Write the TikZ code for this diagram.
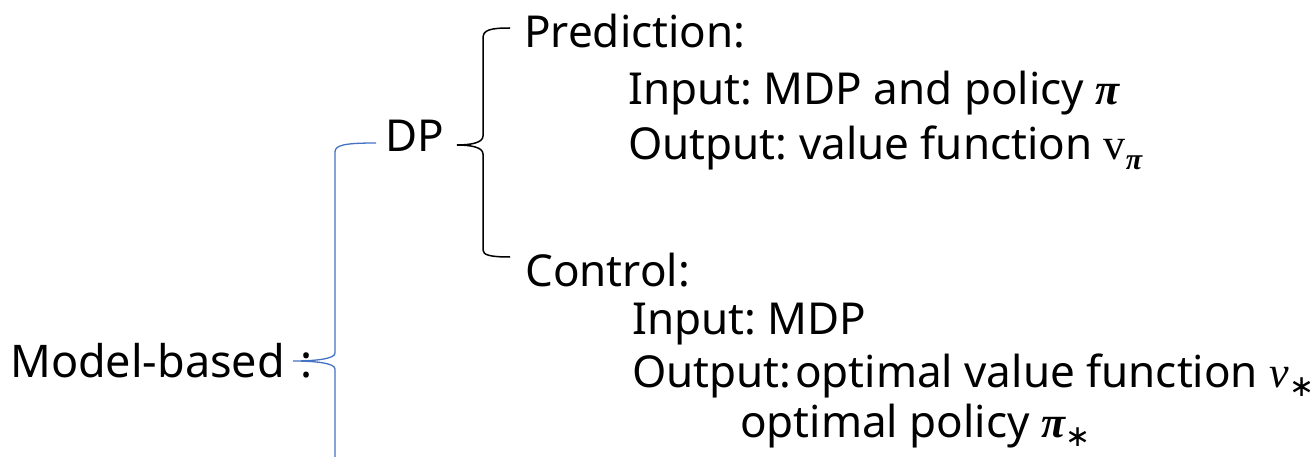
\documentclass[tikz,border=0pt]{standalone}
\usepackage{fontspec}
\setmainfont{Noto Sans}
\newfontfamily\mathserif{Liberation Serif}
\newfontfamily\symfont{DejaVu Sans}
\newcommand{\gpi}{{\mathserif\bfseries\itshape π}}
\newcommand{\gv}{{\mathserif\itshape v}}
\newcommand{\uv}{{\mathserif v}}
\newcommand{\myast}{{\symfont ∗}}
\newcommand{\subtxt}[1]{\raisebox{-0.22em}{\scalebox{0.68}{#1}}}
\frenchspacing
\begin{document}
\begin{tikzpicture}[x=1pt,y=-1pt,
  txt/.style={anchor=base west,inner sep=0pt,font=\fontsize{44}{52}\selectfont\frenchspacing},
  txtl/.style={anchor=base west,inner sep=0pt,font=\fontsize{44}{52}\selectfont\frenchspacing},
  bracek/.style={draw=black,line width=1.5pt},
  braceb/.style={draw={rgb,255:red,68;green,114;blue,196},line width=1.3pt}]
\useasboundingbox (0,0) rectangle (1316,457);
\node[txt,font=\fontsize{45}{52}\selectfont] (model) at (10,377) {Model-based\hspace{0.35em}:};
\node[txt] (dp) at (385,152) {DP};
\node[txt] (pred) at (524,48) {Prediction:};
\node[txt] (in1) at (628,105) {Input: MDP and policy \gpi};
\node[txt] (out1) at (628,160) {Output: value function \uv\subtxt{\gpi}};
\node[txt] (ctrl) at (525,286) {Control:};
\node[txtl] (in2) at (632,334) {Input: MDP};
\node[txtl] (out2) at (632,387) {Output:\hspace{0.08em}optimal value function \gv\subtxt{\myast}};
\node[txtl] (pol) at (740,437) {optimal policy \gpi\subtxt{\myast}};
% black brace
\coordinate (kt) at (510,28);
\coordinate (kb) at (510,257);
\coordinate (km) at (457,145);
\draw[bracek] (kt) .. controls (490,28) and (483,30) .. (483,38) -- (483,136)
  .. controls (483,143) and (470,145) .. (km)
  .. controls (470,145) and (483,147) .. (483,154) -- (483,250)
  .. controls (483,255) and (490,257) .. (kb);
% blue brace
\coordinate (bt) at (376,143);
\coordinate (bm) at (293,361);
\draw[braceb] (bt) .. controls (345,143) and (335,145) .. (335,152) -- (335,353)
  .. controls (335,359) and (315,361) .. (bm)
  .. controls (315,361) and (335,363) .. (335,369) -- (335,470);
\end{tikzpicture}
\end{document}
